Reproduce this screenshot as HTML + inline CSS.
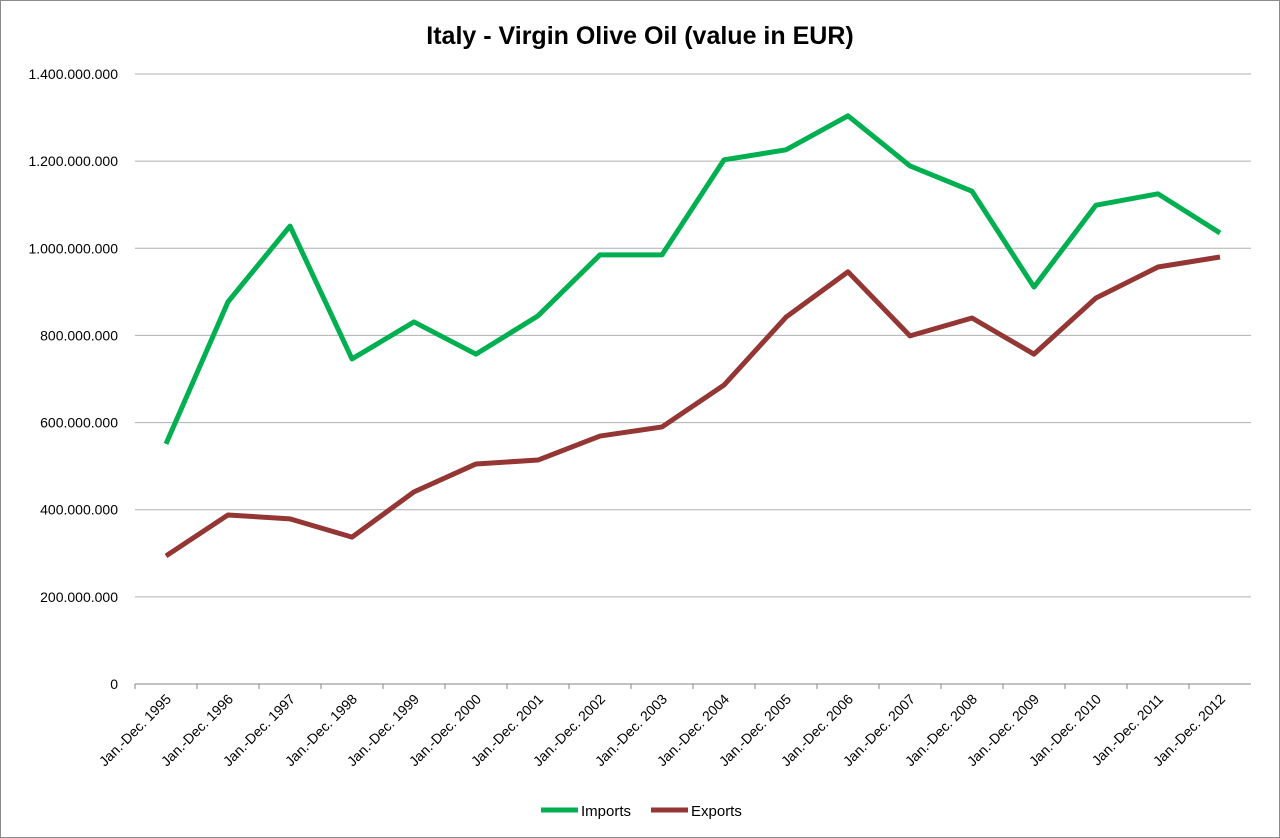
<!DOCTYPE html>
<html><head><meta charset="utf-8"><style>
body{margin:0;background:#fff;font-family:"Liberation Sans",sans-serif}
svg{display:block}
</style></head><body>
<svg id="chart" width="1280" height="838">
<rect x="0.5" y="0.5" width="1279" height="837" fill="#fff" stroke="#8c8c8c"/>
<text x="640" y="44" text-anchor="middle" font-size="25" font-weight="bold" fill="#000">Italy - Virgin Olive Oil (value in EUR)</text>
<g id="grid"></g><g id="xlabels"></g><g id="series"></g>
<g>
<line x1="541" y1="810" x2="578" y2="810" stroke="#00b050" stroke-width="5"/>
<text x="581" y="816" font-size="15">Imports</text>
<line x1="651" y1="810" x2="688" y2="810" stroke="#943634" stroke-width="5"/>
<text x="691" y="816" font-size="15">Exports</text>
</g>
</svg>
<script>
const categories=["Jan.-Dec. 1995","Jan.-Dec. 1996","Jan.-Dec. 1997","Jan.-Dec. 1998","Jan.-Dec. 1999","Jan.-Dec. 2000","Jan.-Dec. 2001","Jan.-Dec. 2002","Jan.-Dec. 2003","Jan.-Dec. 2004","Jan.-Dec. 2005","Jan.-Dec. 2006","Jan.-Dec. 2007","Jan.-Dec. 2008","Jan.-Dec. 2009","Jan.-Dec. 2010","Jan.-Dec. 2011","Jan.-Dec. 2012"];
const imports=[551e6,877e6,1051e6,746e6,831e6,757e6,845e6,985e6,985e6,1203e6,1226e6,1304e6,1189e6,1131e6,911e6,1099e6,1125e6,1035e6];
const exports_=[294e6,388e6,379e6,337e6,441e6,505e6,514e6,569e6,590e6,686e6,842e6,946e6,799e6,840e6,757e6,886e6,957e6,980e6];
const yTicks=[0,200e6,400e6,600e6,800e6,1000e6,1200e6,1400e6];
const yTickLabels=["0","200.000.000","400.000.000","600.000.000","800.000.000","1.000.000.000","1.200.000.000","1.400.000.000"];
const NS="http://www.w3.org/2000/svg";
const L=135,R=1251,T=74,B=684,yMax=1.4e9;
const bw=(R-L)/categories.length;
const x=i=>L+bw*(i+0.5);
const y=v=>B-(v/yMax)*(B-T);
function mk(tag,attrs,parent){const e=document.createElementNS(NS,tag);for(const k in attrs)e.setAttribute(k,attrs[k]);parent.appendChild(e);return e;}
const grid=document.getElementById('grid');
yTicks.forEach((t,i)=>{
 const ln=mk('line',{x1:L,x2:R,y1:y(t),y2:y(t),stroke:t===0?'#868686':'#b0b0b0','stroke-width':1},grid);
 
 
 const tx=mk('text',{x:118,y:y(t)+5,'text-anchor':'end','font-size':14,fill:'#000'},grid);
 tx.textContent=yTickLabels[i];
 
 
});
const xl=document.getElementById('xlabels');
categories.forEach((c,i)=>{
 const tk=mk('line',{x1:L+bw*i,x2:L+bw*i,y1:B,y2:B+5,stroke:'#868686'},xl);
 
 
 const tx=mk('text',{x:x(i)+6,y:B+16,'text-anchor':'end','font-size':14,transform:`rotate(-45 ${x(i)+6} ${B+16})`},xl);
 tx.textContent=c;
 
 
});
const s=document.getElementById('series');
[[imports,'#00b050','imports-line'],[exports_,'#943634','exports-line']].forEach(([d,col,n])=>{
 const p=mk('polyline',{points:d.map((v,i)=>x(i)+','+y(v)).join(' '),fill:'none',stroke:col,'stroke-width':5,'stroke-linejoin':'round'},s);
 
 
});
</script>
</body></html>
